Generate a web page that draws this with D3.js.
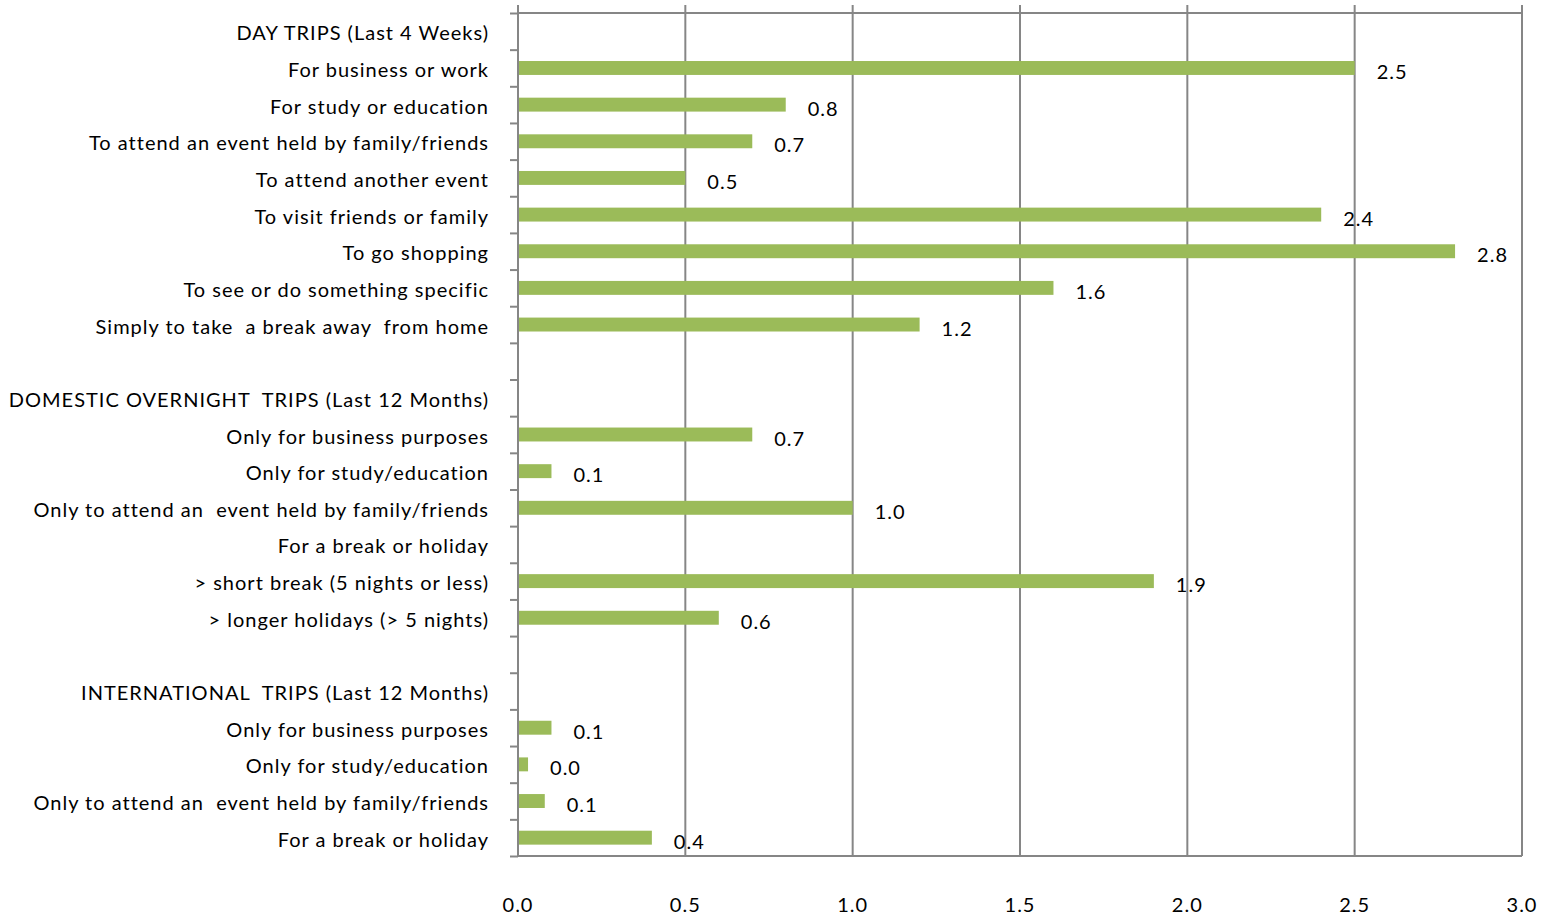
<!DOCTYPE html>
<html>
  <head>
    <meta charset="utf-8" />
    <script src="https://d3js.org/d3.v7.min.js"></script>
    <style>
      body { margin: 0; background: #fff; }
      text { font-family: Lato, "Open Sans", sans-serif; font-size: 20px; letter-spacing: 1px; fill: #000; white-space: pre; }
      .grid line, .frame { stroke: #868686; stroke-width: 2px; }
      .axis path, .axis line { stroke: #868686; stroke-width: 2px; }
      .bar { fill: #9bbb59; }
    </style>
  </head>
  <body>
    <svg id="chart" width="1549" height="916"></svg>
  <script>

  // rows from top to bottom; null = heading or spacer row with no bar
  var categories = [
    "DAY TRIPS (Last 4 Weeks)",
    "For business or work",
    "For study or education",
    "To attend an event held by family/friends",
    "To attend another event",
    "To visit friends or family",
    "To go shopping",
    "To see or do something specific",
    "Simply to take  a break away  from home",
    "",
    "DOMESTIC OVERNIGHT  TRIPS (Last 12 Months)",
    "Only for business purposes",
    "Only for study/education",
    "Only to attend an  event held by family/friends",
    "For a break or holiday",
    "> short break (5 nights or less)",
    "> longer holidays (> 5 nights)",
    "",
    "INTERNATIONAL  TRIPS (Last 12 Months)",
    "Only for business purposes",
    "Only for study/education",
    "Only to attend an  event held by family/friends",
    "For a break or holiday"
  ];

  var values = [null, 2.5, 0.8, 0.7, 0.5, 2.4, 2.8, 1.6, 1.2, null,
                null, 0.7, 0.1, 1.0, null, 1.9, 0.6, null,
                null, 0.1, 0.03, 0.08, 0.4];

  var xTicks = [0, 0.5, 1.0, 1.5, 2.0, 2.5, 3.0];

  var svg = d3.select("#chart");

  var plotLeft = 518, plotRight = 1522, plotTop = 13, plotBottom = 856;

  var x = d3.scaleLinear().domain([0, 3]).range([plotLeft, plotRight]);

  var rows = d3.range(categories.length);
  var y = d3.scaleBand()
    .domain(rows)
    .range([plotTop, plotBottom])
    .paddingInner(0.62)
    .paddingOuter(0.31);

  // row boundaries for the small ticks on the category axis
  var edge = d3.scaleLinear().domain([0, rows.length]).range([plotTop, plotBottom]);

  // vertical gridlines, poking a little above the top frame
  svg.append("g")
    .attr("class", "grid")
    .selectAll("line")
    .data(xTicks.slice(1))
    .enter().append("line")
    .attr("x1", function(d) { return x(d); })
    .attr("x2", function(d) { return x(d); })
    .attr("y1", plotTop - 8)
    .attr("y2", plotBottom);

  svg.append("line").attr("class", "frame")
    .attr("x1", plotLeft).attr("x2", plotRight).attr("y1", plotTop).attr("y2", plotTop);
  svg.append("line").attr("class", "frame")
    .attr("x1", plotLeft).attr("x2", plotRight).attr("y1", plotBottom).attr("y2", plotBottom);
  svg.append("line").attr("class", "frame")
    .attr("x1", plotLeft).attr("x2", plotLeft).attr("y1", plotTop - 8).attr("y2", plotBottom);

  svg.append("g")
    .attr("class", "axis")
    .attr("transform", "translate(" + plotLeft + ",0)")
    .call(d3.axisLeft(edge).tickValues(d3.range(rows.length + 1)).tickSize(8).tickSizeOuter(0).tickFormat(""))
    .call(function(g) { g.select(".domain").remove(); });

  // value labels along the bottom
  svg.append("g")
    .selectAll("text")
    .data(xTicks)
    .enter().append("text")
    .attr("x", function(d) { return x(d); })
    .attr("y", 912)
    .attr("text-anchor", "middle")
    .text(function(d) { return d3.format(".1f")(d); });

  // category labels
  svg.append("g")
    .selectAll("text")
    .data(rows)
    .enter().append("text")
    .attr("x", plotLeft - 29)
    .attr("y", function(i) { return y(i) + y.bandwidth() / 2 + 9; })
    .attr("text-anchor", "end")
    .text(function(i) { return categories[i]; });

  var withBars = rows.filter(function(i) { return values[i] !== null; });

  svg.append("g")
    .selectAll("rect")
    .data(withBars)
    .enter().append("rect")
    .attr("class", "bar")
    .attr("x", x(0) + 1)
    .attr("y", function(i) { return y(i); })
    .attr("width", function(i) { return x(values[i]) - x(0) - 1; })
    .attr("height", y.bandwidth());

  svg.append("g")
    .selectAll("text")
    .data(withBars)
    .enter().append("text")
    .attr("x", function(i) { return x(values[i]) + 22; })
    .attr("y", function(i) { return y(i) + y.bandwidth() / 2 + 11; })
    .text(function(i) { return d3.format(".1f")(values[i]); });

  </script>
  </body>
</html>
